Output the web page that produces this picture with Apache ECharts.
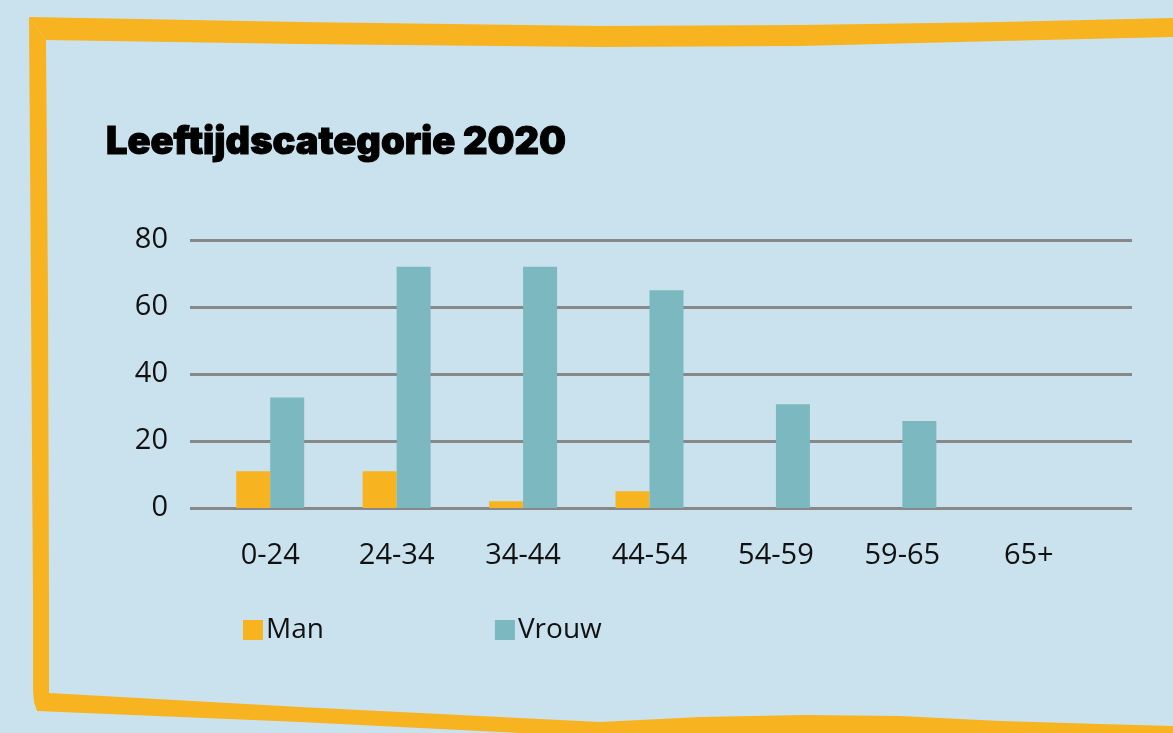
<!DOCTYPE html>
<html><head><meta charset="utf-8">
<script src="https://cdn.jsdelivr.net/npm/echarts@6/dist/echarts.min.js"></script>
<style>html,body{margin:0;padding:0;background:#CAE2EE}#c{width:1173px;height:733px}</style>
</head><body><div id="c"></div>
<script>
const categories = ['0-24','24-34','34-44','44-54','54-59','59-65','65+'];
const manValues = [11, 11, 2, 5, 0, 0, 0];
const vrouwValues = [33, 72, 72, 65, 31, 26, 0];
const yTicks = [0, 20, 40, 60, 80];

const orange = '#F8B320';
const teal = '#7BB8BF';
const chart = echarts.init(document.getElementById('c'));
chart.setOption({
  backgroundColor: '#CAE2EE',
  animation: false,
  title: {
    text: 'Leeftijdscategorie 2020',
    left: 101, top: 119,
    textStyle: { fontFamily: 'Inter', fontWeight: 900, fontSize: 38, color: '#000',
                 textBorderColor: '#000', textBorderWidth: 1 }
  },
  legend: {
    left: 238, top: 611,
    itemWidth: 20, itemHeight: 20, itemGap: 171,
    icon: 'rect',
    textStyle: { fontFamily: 'Open Sans', fontSize: 28, color: '#111', padding: [0,0,0,-2] },
    data: ['Man', 'Vrouw']
  },
  grid: [
    { left: 190, right: 41, top: 240, bottom: 225 },
    { left: 207, right: 81, top: 240, bottom: 225 }
  ],
  xAxis: [
    { gridIndex: 0, type: 'value', min: 0, max: 1, show: false },
    { gridIndex: 1, type: 'category', data: categories,
      axisLine: { show: false }, axisTick: { show: false },
      axisLabel: { margin: 33, fontFamily: 'Open Sans', fontSize: 29, color: '#111' } }
  ],
  yAxis: [
    { gridIndex: 0, type: 'value', min: yTicks[0], max: yTicks[yTicks.length-1], interval: 20,
      axisLine: { show: false }, axisTick: { show: false },
      axisLabel: { margin: 22, fontFamily: 'Open Sans', fontSize: 29, color: '#111' },
      splitLine: { lineStyle: { color: '#888888', width: 3 } } },
    { gridIndex: 1, type: 'value', min: yTicks[0], max: yTicks[yTicks.length-1], interval: 20, show: false, splitLine: { show: false } }
  ],
  series: [
    { name: 'Man', type: 'bar', xAxisIndex: 1, yAxisIndex: 1, data: manValues,
      barWidth: 34, barGap: '0%', itemStyle: { color: orange } },
    { name: 'Vrouw', type: 'bar', xAxisIndex: 1, yAxisIndex: 1, data: vrouwValues,
      barWidth: 34, barGap: '0%', itemStyle: { color: teal } }
  ],
  graphic: [
    { type: 'polygon', z: 100, silent: true,
      shape: { points: [[29,17],[300,22],[600,26],[800,25],[1000,22],[1173,18],
                        [1173,37],[1000,41],[800,46],[600,47],[300,44],[46,40]] },
      style: { fill: orange } },
    { type: 'polygon', z: 100, silent: true,
      shape: { points: [[29,17],[31,300],[33,600],[33,690],[34,702],[37,711],
                        [300,722],[600,737],[1173,745],
                        [1173,726],[1100,724],[1000,721],[900,716],[805,715],[700,717],[600,722],[300,707],[49,693],
                        [49,600],[48,300],[46,40]] },
      style: { fill: orange } }
  ]
});
</script></body></html>
